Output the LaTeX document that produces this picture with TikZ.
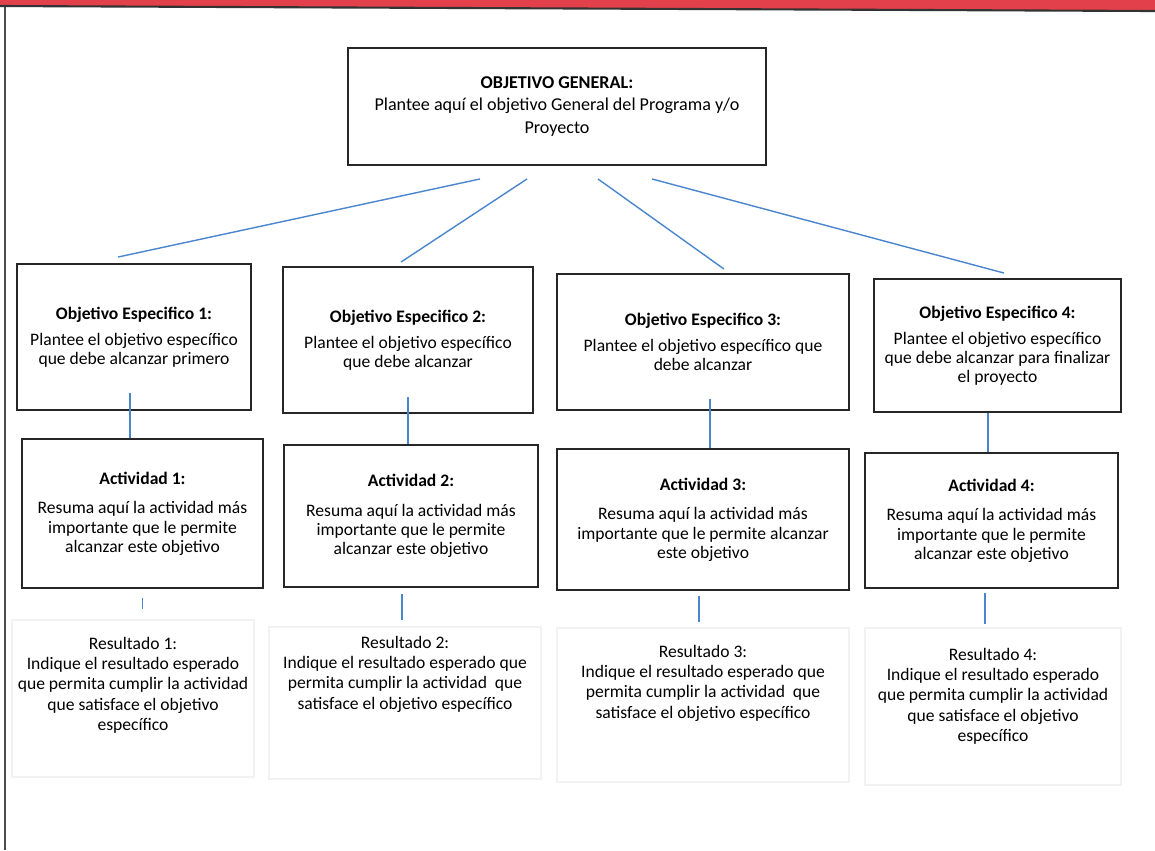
\documentclass[tikz,border=0pt]{standalone}
\usepackage{fontspec}
\setmainfont{Carlito}
\usetikzlibrary{positioning}
\definecolor{bandred}{RGB}{226,64,74}
\definecolor{linkblue}{RGB}{74,134,206}

\tikzset{
  sized/.style 2 args={minimum width=#1*0.02cm,minimum height=#2*0.02cm},
  box/.style={draw=black!85,line width=1.1pt,align=center,inner sep=2pt,font=\fontsize{10}{10.9}\selectfont},
  resbox/.style={draw=black!5,line width=0.6pt},
  restext/.style={align=center,inner sep=0pt,font=\fontsize{10}{11.6}\selectfont},
  link/.style={draw=linkblue,line width=0.8pt}
}

\begin{document}
\begin{tikzpicture}[x=0.02cm,y=-0.02cm]
\useasboundingbox (0,0) rectangle (1155,850);
\fill[white] (0,0) rectangle (1155,850);
\fill[bandred] (0,0) -- (1155,0) -- (1155,11) -- (0,6) -- cycle;
\draw[black!80,line width=1.2pt] (0,6) -- (1155,11);
\draw[black!70,line width=0.9pt] (5,7) -- (5,850);

\node[box,sized={418}{117},font=\fontsize{10.3}{13}\selectfont] (gen) at (557,106.5)
  {\textbf{OBJETIVO GENERAL:}\\Plantee aquí el objetivo General del Programa y/o\\Proyecto};

\node[box,sized={234}{146}] (oe1) at (134,337)
  {\textbf{Objetivo Especifico 1:}\\[4pt]Plantee el objetivo específico\\que debe alcanzar primero};
\node[box,sized={250}{146}] (oe2) at (408,340)
  {\textbf{Objetivo Especifico 2:}\\[4pt]Plantee el objetivo específico\\que debe alcanzar};
\node[box,sized={292}{136}] (oe3) at (703,342)
  {\textbf{Objetivo Especifico 3:}\\[4pt]Plantee el objetivo específico que\\debe alcanzar};
\node[box,sized={247}{133}] (oe4) at (997.5,345.5)
  {\textbf{Objetivo Especifico 4:}\\[4pt]Plantee el objetivo específico\\que debe alcanzar para finalizar\\el proyecto};

\node[box,sized={241}{149}] (a1) at (142.5,513.5)
  {\textbf{Actividad 1:}\\[6pt]Resuma aquí la actividad más\\importante que le permite\\alcanzar este objetivo};
\node[box,sized={254}{142}] (a2) at (411,516)
  {\textbf{Actividad 2:}\\[6pt]Resuma aquí la actividad más\\importante que le permite\\alcanzar este objetivo};
\node[box,sized={292}{141}] (a3) at (703,519.5)
  {\textbf{Actividad 3:}\\[6pt]Resuma aquí la actividad más\\importante que le permite alcanzar\\este objetivo};
\node[box,sized={253}{135}] (a4) at (991.5,520.5)
  {\textbf{Actividad 4:}\\[6pt]Resuma aquí la actividad más\\importante que le permite\\alcanzar este objetivo};

\node[resbox,sized={242}{157}] (rb1) at (133,698.5) {};
\node[resbox,sized={272}{152}] (rb2) at (405,703) {};
\node[resbox,sized={292}{154}] (rb3) at (703,705) {};
\node[resbox,sized={256}{157}] (rb4) at (993,706.5) {};

\node[restext,below=0.34cm of rb1.north] (r1)
  {Resultado 1:\\Indique el resultado esperado\\que permita cumplir la actividad\\que satisface el objetivo\\específico};
\node[restext,below=0.18cm of rb2.north] (r2)
  {Resultado 2:\\Indique el resultado esperado que\\permita cumplir la actividad\ \ que\\satisface el objetivo específico};
\node[restext,below=0.34cm of rb3.north] (r3)
  {Resultado 3:\\Indique el resultado esperado que\\permita cumplir la actividad\ \ que\\satisface el objetivo específico};
\node[restext,below=0.4cm of rb4.north] (r4)
  {Resultado 4:\\Indique el resultado esperado\\que permita cumplir la actividad\\que satisface el objetivo\\específico};

\foreach \n/\gx/\ex/\ey in {1/-77/-16/-6,2/-30/-7/-4,3/41/21/-4,4/95/6.5/-5}
  \draw[link] ([shift={(\gx,13)}]gen.south) -- ([shift={(\ex,\ey)}]oe\n.north);
\foreach \n/\dx/\dy in {1/-4/-18,2/0/-17,3/7/-12,4/-9.5/0}
  \draw[link] ([shift={(\dx,\dy)}]oe\n.south) coordinate (v\n) -- (v\n |- a\n.north);
\foreach \n/\dx/\dy/\len in {1/0/9/11,2/-9/6/26,3/-4/5/26,4/-6.5/4/31}
  \draw[link] ([shift={(\dx,\dy)}]a\n.south) -- ++(0,\len) coordinate (k\n);
\end{tikzpicture}
\end{document}
